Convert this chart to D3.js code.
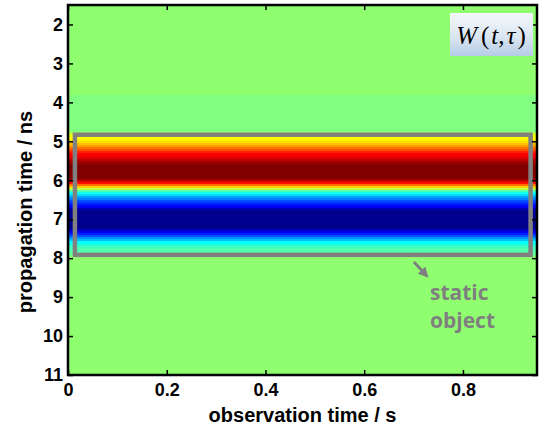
<!DOCTYPE html>
<html>
<head>
<meta charset="utf-8">
<script src="https://d3js.org/d3.v7.min.js"></script>
<style>
  body { margin: 0; background: #fff; }
  text { font-family: "Liberation Sans", Arial, sans-serif; }
</style>
</head>
<body>
<div id="chart"></div>
<script>
// propagation time (ns) where each row of the map starts; a row runs to the next entry
var tauStart = [1.5, 3.8, 4.75, 4.8, 4.85, 4.9, 4.95, 5.0, 5.05, 5.1, 5.15, 5.2, 5.25, 5.3, 5.35, 5.4, 5.45, 5.5, 5.55, 5.6,
    5.95, 6.0, 6.05, 6.1, 6.15, 6.2, 6.25, 6.3, 6.35, 6.4, 6.45, 6.5, 6.55, 6.6, 6.65, 6.7, 6.75, 6.8,
    7.25, 7.3, 7.35, 7.4, 7.45, 7.5, 7.55, 7.6, 7.65, 7.7, 7.75, 7.8, 7.85, 7.9, 7.95];
// W(t,tau), normalised to [-1, 1], same for every observation time
var wValue = [0, -0.02, 0.1, 0.16, 0.2, 0.22, 0.26, 0.3, 0.36, 0.42, 0.5, 0.58, 0.66, 0.72, 0.76, 0.8, 0.86, 0.92, 0.96, 1,
    0.94, 0.84, 0.7, 0.52, 0.32, 0.1, -0.1, -0.24, -0.34, -0.44, -0.52, -0.6, -0.68, -0.74, -0.8, -0.88, -0.94, -1,
    -0.9, -0.8, -0.7, -0.6, -0.48, -0.38, -0.28, -0.22, -0.16, -0.14, -0.12, -0.1, -0.08, -0.04, 0];
var tauEnd = 11;

var xTicks = [0, 0.2, 0.4, 0.6, 0.8];
var yTicks = [2, 3, 4, 5, 6, 7, 8, 9, 10, 11];

var staticBox = { t0: 0.014, t1: 0.937, tau0: 4.83, tau1: 7.915 };

var width = 539, height = 425;
var margin = { top: 5, right: 2, bottom: 50, left: 68 };

var svg = d3.select("#chart").append("svg")
    .attr("width", width)
    .attr("height", height);

var x = d3.scaleLinear().domain([0, 0.95]).range([margin.left, width - margin.right]);
var y = d3.scaleLinear().domain([1.5, 11]).range([margin.top, height - margin.bottom]);

// matlab jet(64) lookup
var jetU = [];
for (var k = 1; k <= 16; k++) jetU.push(k / 16);
for (k = 0; k < 15; k++) jetU.push(1);
for (k = 16; k >= 1; k--) jetU.push(k / 16);

function jet(v) {
    var m = Math.max(0, Math.min(63, Math.floor((v + 1) / 2 * 64))) + 1;
    function pick(off) { var idx = m - off; return (idx >= 1 && idx <= jetU.length) ? jetU[idx - 1] : 0; }
    return d3.rgb(Math.round(pick(24) * 255), Math.round(pick(8) * 255), Math.round(pick(-8) * 255)).toString();
}

var rows = tauStart.map(function(d, i) {
    return { a: d, b: i < tauStart.length - 1 ? tauStart[i + 1] : tauEnd, w: wValue[i] };
});

svg.append("g").selectAll("rect")
    .data(rows)
    .enter().append("rect")
    .attr("x", x(0))
    .attr("width", x(0.95) - x(0))
    .attr("y", function(d) { return y(d.a); })
    .attr("height", function(d) { return y(d.b) - y(d.a) + 0.5; })
    .attr("fill", function(d) { return jet(d.w); })
    .attr("shape-rendering", "crispEdges");

// static object box
svg.append("rect")
    .attr("x", x(staticBox.t0))
    .attr("y", y(staticBox.tau0))
    .attr("width", x(staticBox.t1) - x(staticBox.t0))
    .attr("height", y(staticBox.tau1) - y(staticBox.tau0))
    .attr("fill", "none")
    .attr("stroke", "#808080")
    .attr("stroke-width", 4.5);

// axes
var tickLen = 5;
var axisBottom = d3.axisBottom(x).tickValues(xTicks).tickSize(tickLen).tickFormat(function(d) { return d === 0 ? "0" : d3.format(".1f")(d); });
var axisLeft = d3.axisLeft(y).tickValues(yTicks).tickSize(tickLen).tickFormat(d3.format("d"));

var gx = svg.append("g").attr("transform", "translate(0," + y(11) + ")").call(axisBottom);
gx.selectAll(".tick line").attr("y2", -tickLen);
gx.selectAll(".tick text").attr("y", 8);
var gy = svg.append("g").attr("transform", "translate(" + x(0) + ",0)").call(axisLeft);
gy.selectAll(".tick line").attr("x2", tickLen);
gy.selectAll(".tick text").attr("x", -5);

var gxt = svg.append("g").attr("transform", "translate(0," + y(1.5) + ")").call(d3.axisTop(x).tickValues(xTicks).tickSize(tickLen).tickFormat(""));
gxt.selectAll(".tick line").attr("y2", tickLen);
var gyr = svg.append("g").attr("transform", "translate(" + x(0.95) + ",0)").call(d3.axisRight(y).tickValues(yTicks).tickSize(tickLen).tickFormat(""));
gyr.selectAll(".tick line").attr("x2", -tickLen);

[gx, gy, gxt, gyr].forEach(function(g) {
    g.select(".domain").remove();
    g.selectAll(".tick line").attr("stroke", "#000").attr("stroke-width", 1.5);
    g.selectAll(".tick text").attr("fill", "#000").style("font-size", "18px").style("font-weight", "bold");
});

svg.append("rect")
    .attr("x", x(0))
    .attr("y", y(1.5))
    .attr("width", x(0.95) - x(0))
    .attr("height", y(11) - y(1.5))
    .attr("fill", "none")
    .attr("stroke", "#000")
    .attr("stroke-width", 2.5);

// axis labels
svg.append("text")
    .attr("x", (x(0) + x(0.95)) / 2)
    .attr("y", 422)
    .attr("text-anchor", "middle")
    .style("font-size", "20px")
    .style("font-weight", "bold")
    .text("observation time / s");

svg.append("text")
    .attr("transform", "translate(32,212) rotate(-90)")
    .attr("text-anchor", "middle")
    .style("font-size", "20px")
    .style("font-weight", "bold")
    .text("propagation time / ns");

// W(t,tau) label
var defs = svg.append("defs");
var grad = defs.append("linearGradient").attr("id", "lblGrad").attr("x1", 0).attr("y1", 0).attr("x2", 0).attr("y2", 1);
grad.append("stop").attr("offset", "0%").attr("stop-color", "#f4f7fb");
grad.append("stop").attr("offset", "55%").attr("stop-color", "#dbe6f2");
grad.append("stop").attr("offset", "100%").attr("stop-color", "#b5cce6");

svg.append("rect")
    .attr("x", 450).attr("y", 13)
    .attr("width", 83).attr("height", 43)
    .attr("fill", "url(#lblGrad)");

var lbl = svg.append("text")
    .attr("x", 491).attr("y", 44)
    .attr("text-anchor", "middle")
    .style("font-family", "'Liberation Serif', 'Times New Roman', serif")
    .style("font-size", "25px");
lbl.append("tspan").style("font-style", "italic").text("W");
lbl.append("tspan").attr("dx", 4).text("(");
lbl.append("tspan").attr("dx", 2).style("font-style", "italic").text("t");
lbl.append("tspan").text(",");
lbl.append("tspan").attr("dx", 2).style("font-style", "italic").text("τ");
lbl.append("tspan").attr("dx", 2).text(")");

// annotation
defs.append("marker")
    .attr("id", "arr").attr("viewBox", "0 0 10 10").attr("refX", 5).attr("refY", 5)
    .attr("markerWidth", 3.5).attr("markerHeight", 3.5).attr("orient", "auto")
    .append("path").attr("d", "M0,0 L10,5 L0,10 z").attr("fill", "#7f7f7f");

svg.append("line")
    .attr("x1", 414).attr("y1", 262)
    .attr("x2", 425).attr("y2", 274)
    .attr("stroke", "#7f7f7f")
    .attr("stroke-width", 3)
    .attr("marker-end", "url(#arr)");

svg.append("text")
    .attr("x", 430).attr("y", 300)
    .attr("fill", "#7f7f7f")
    .style("font-family", "'Open Sans', sans-serif")
    .style("font-weight", "bold")
    .style("font-size", "21px")
    .text("static");
svg.append("text")
    .attr("x", 430).attr("y", 328)
    .attr("fill", "#7f7f7f")
    .style("font-family", "'Open Sans', sans-serif")
    .style("font-weight", "bold")
    .style("font-size", "21px")
    .text("object");
</script>
</body>
</html>
